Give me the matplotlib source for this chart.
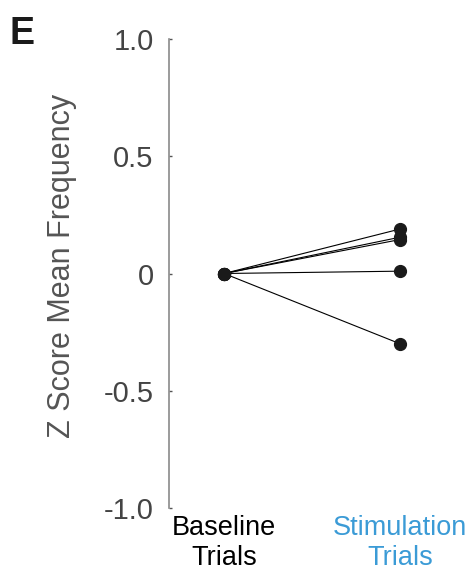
import matplotlib.pyplot as plt

plt.rcParams["font.family"] = ["Liberation Sans", "DejaVu Sans"]

conditions = ["Baseline\nTrials", "Stimulation\nTrials"]
condition_colors = ["black", "#3b9bd6"]
baseline_z = [0.0, 0.0, 0.0, 0.0, 0.0]
stimulation_z = [0.19, 0.155, 0.145, 0.01, -0.30]
y_ticks = [-1.0, -0.5, 0.0, 0.5, 1.0]
y_tick_labels = ["-1.0", "-0.5", "0", "0.5", "1.0"]

fig = plt.figure(figsize=(4.76, 5.71), dpi=100)
ax = fig.add_axes([0.355, 0.1103, 0.597, 0.8214])

# one line per session, baseline -> stimulation
for b, s in zip(baseline_z, stimulation_z):
    ax.plot([1, 2], [b, s], color="black", linewidth=0.8, zorder=2)
    ax.plot([1, 2], [b, s], "o", color="#1a1a1a", markersize=8.5, zorder=3)

ax.set_xlim(0.6875, 2.3)
ax.set_ylim(-1.0, 1.0)
ax.set_yticks(y_ticks)
ax.set_yticklabels(y_tick_labels)
ax.set_xticks([1, 2])
ax.set_xticklabels(conditions)

for lbl, c in zip(ax.get_xticklabels(), condition_colors):
    lbl.set_color(c)

for side in ["top", "right", "bottom"]:
    ax.spines[side].set_visible(False)
ax.spines["left"].set_color("#8a8a8a")
ax.spines["left"].set_linewidth(1.2)

ax.tick_params(axis="y", direction="in", length=2.5, width=1, color="#555555",
               labelsize=21, labelcolor="#444444", pad=11)
ax.tick_params(axis="x", length=0, labelsize=19.5, pad=5)

ax.set_ylabel("Z Score Mean Frequency", fontsize=22, color="#555555",
              labelpad=19, y=0.517)

fig.text(0.019, 0.972, "E", fontsize=27, fontweight="bold", color="#1a1a1a",
         ha="left", va="top")

fig.savefig("out.png", dpi=100)
